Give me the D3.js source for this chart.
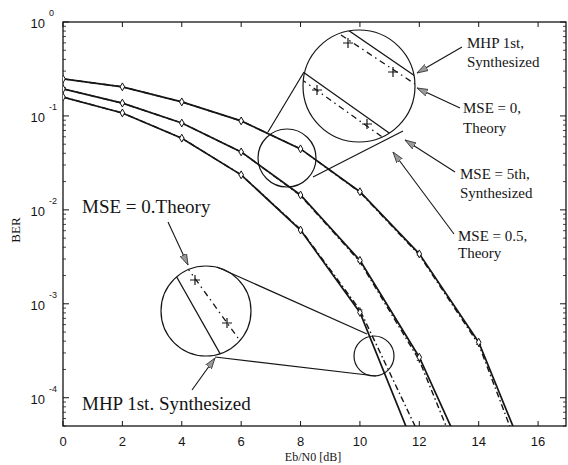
<!DOCTYPE html>
<html>
<head>
<meta charset="utf-8">
<script src="https://cdn.jsdelivr.net/npm/d3@7"></script>
<style>
body { margin: 0; background: #fff; }
</style>
</head>
<body>
<svg class="chart"></svg>
<script>
// Eb/N0 sample points and BER
var ebn0 = [0, 2, 4, 6, 8, 10, 12, 14, 16];
var theoryA = [0.248, 0.204, 0.141, 0.0885, 0.0446, 0.0156, 0.0034, 0.00039, 0.000011];
var synthA  = [0.248, 0.204, 0.141, 0.0885, 0.0446, 0.0154, 0.0033, 0.00037, 0.000008];
var theoryB = [0.194, 0.137, 0.084, 0.0414, 0.0144, 0.0029, 0.00027, 0.000011];
var synthB  = [0.194, 0.137, 0.084, 0.0414, 0.0142, 0.0028, 0.00025, 0.000007];
var theoryC = [0.159, 0.1076, 0.058, 0.0236, 0.0061, 0.00081, 0.000022];
var synthC  = [0.159, 0.1076, 0.058, 0.0236, 0.0062, 0.00086, 0.00004];
var xTicks = [0, 2, 4, 6, 8, 10, 12, 14, 16];
var yExps = [0, -1, -2, -3, -4];

var width = 568, height = 465;
var plotL = 63, plotR = 566, plotT = 22, plotB = 426;
var ink = "#151515";

var x = d3.scaleLinear()
	.domain([0, 16.94])
	.range([plotL, plotR]);

var y = d3.scaleLog()
	.domain([1, 5e-5])
	.range([plotT, plotB]);

var svg = d3.select(".chart")
	.attr("width", width)
	.attr("height", height)
	.style("font-family", "'Liberation Sans', Arial, sans-serif");

var defs = svg.append("defs");
defs.append("clipPath").attr("id", "plot")
	.append("rect")
	.attr("x", plotL).attr("y", plotT)
	.attr("width", plotR - plotL).attr("height", plotB - plotT);

defs.append("marker")
	.attr("id", "arr")
	.attr("viewBox", "0 -4 11 8")
	.attr("refX", 11)
	.attr("refY", 0)
	.attr("markerWidth", 11)
	.attr("markerHeight", 8)
	.attr("markerUnits", "userSpaceOnUse")
	.attr("orient", "auto")
	.append("path")
	.attr("d", "M0,-3.5L11,0L0,3.5Z")
	.style("fill", "#9a9a9a")
	.style("stroke", "#333")
	.style("stroke-width", 0.8);

// frame
svg.append("rect")
	.attr("x", plotL).attr("y", plotT)
	.attr("width", plotR - plotL).attr("height", plotB - plotT)
	.style("fill", "none")
	.style("stroke", ink)
	.style("stroke-width", 1.3);

// x ticks, bottom and top, pointing in
var xt = svg.selectAll(".xt")
	.data(xTicks)
	.enter().append("g")
	.attr("transform", function(d) { return "translate(" + x(d) + ",0)"; });

xt.append("line").attr("y1", plotB).attr("y2", plotB - 5).style("stroke", ink);
xt.append("line").attr("y1", plotT).attr("y2", plotT + 5).style("stroke", ink);
xt.append("text")
	.attr("y", plotB + 20)
	.attr("text-anchor", "middle")
	.style("font-size", "13px")
	.style("fill", ink)
	.text(function(d) { return d; });

// y ticks: majors at decades, minors between
var minors = [];
yExps.forEach(function(e) {
	for (var k = 2; k < 10; k++) {
		var v = k * Math.pow(10, e - 1);
		if (v >= 5e-5 && v < 1) minors.push(v);
	}
});

svg.selectAll(".ymin")
	.data(minors)
	.enter().append("path")
	.attr("d", function(d) {
		return "M" + plotL + "," + y(d) + "h3M" + plotR + "," + y(d) + "h-3";
	})
	.style("stroke", ink)
	.style("stroke-width", 0.8);

var yt = svg.selectAll(".yt")
	.data(yExps)
	.enter().append("g")
	.attr("transform", function(d) { return "translate(0," + y(Math.pow(10, d)) + ")"; });

yt.append("path")
	.attr("d", "M" + plotL + ",0h6M" + plotR + ",0h-6")
	.style("stroke", ink);

yt.append("text")
	.attr("x", 45)
	.attr("y", 6)
	.attr("text-anchor", "end")
	.style("font-size", "13px")
	.style("fill", ink)
	.text("10");

yt.append("text")
	.attr("x", 49)
	.attr("y", -6)
	.style("font-size", "9px")
	.style("fill", ink)
	.text(function(d) { return d === 0 ? "0" : "-" + Math.abs(d); });

// axis titles
svg.append("text")
	.attr("x", 313)
	.attr("y", 461)
	.attr("text-anchor", "middle")
	.style("font-family", "'Liberation Serif', serif")
	.style("font-size", "12px")
	.style("fill", ink)
	.text("Eb/N0 [dB]");

svg.append("text")
	.attr("transform", "translate(20,230) rotate(-90)")
	.attr("text-anchor", "middle")
	.style("font-family", "'Liberation Serif', serif")
	.style("font-size", "13px")
	.style("fill", ink)
	.text("BER");

// curves
var line = d3.line()
	.x(function(d, i) { return x(ebn0[i]); })
	.y(function(d) { return y(d); });

var curves = svg.append("g").attr("clip-path", "url(#plot)");

[synthA, synthB, synthC].forEach(function(s) {
	curves.append("path")
		.datum(s)
		.attr("d", line)
		.style("fill", "none")
		.style("stroke", ink)
		.style("stroke-width", 1.4)
		.style("stroke-dasharray", "6,3,1.5,3");

	curves.selectAll(null)
		.data(s)
		.enter().append("path")
		.attr("transform", function(d, i) { return "translate(" + x(ebn0[i]) + "," + y(d) + ")"; })
		.attr("d", "M-2.5,0H2.5M0,-2.5V2.5")
		.style("stroke", ink)
		.style("stroke-width", 1);
});

[theoryA, theoryB, theoryC].forEach(function(s) {
	curves.append("path")
		.datum(s)
		.attr("d", line)
		.style("fill", "none")
		.style("stroke", ink)
		.style("stroke-width", 1.7);

	curves.selectAll(null)
		.data(s)
		.enter().append("path")
		.attr("transform", function(d, i) { return "translate(" + x(ebn0[i]) + "," + y(d) + ")"; })
		.attr("d", d3.symbol(d3.symbolDiamond, 18))
		.style("fill", "#fff")
		.style("stroke", ink)
		.style("stroke-width", 1);
});

// zoom callouts (overlay, in pixels); small circles are see-through
var circles = [
	{cx: 359, cy: 86, r: 56, id: "zA", fill: "#fff"},
	{cx: 287, cy: 158, r: 29, fill: "none"},
	{cx: 206, cy: 311, r: 45, id: "zB", fill: "#fff"},
	{cx: 374, cy: 356, r: 20, fill: "none"}
];

circles.forEach(function(c) {
	if (c.id) {
		defs.append("clipPath").attr("id", c.id)
			.append("circle").attr("cx", c.cx).attr("cy", c.cy).attr("r", c.r);
	}
	svg.append("circle")
		.attr("cx", c.cx).attr("cy", c.cy).attr("r", c.r)
		.style("fill", c.fill)
		.style("stroke", ink)
		.style("stroke-width", 1.2);
});

var tangents = [[268, 132, 304, 72], [313, 177, 403, 131], [217, 267, 367, 334], [215, 357, 376, 376]];
svg.selectAll(".tan")
	.data(tangents)
	.enter().append("line")
	.attr("x1", function(d) { return d[0]; }).attr("y1", function(d) { return d[1]; })
	.attr("x2", function(d) { return d[2]; }).attr("y2", function(d) { return d[3]; })
	.style("stroke", ink)
	.style("stroke-width", 1.2);

var insets = [
	{clip: "zA", solid: [[345, 28, 418, 78], [303, 72, 392, 135]],
		dash: [[341, 35, 415, 84], [301, 79, 385, 139]],
		plus: [[348, 43], [393, 72], [317, 90], [367, 124]]},
	{clip: "zB", solid: [[175, 274, 222, 357]],
		dash: [[186, 266, 238, 338]],
		plus: [[195, 280], [227, 323]]}
];

insets.forEach(function(s) {
	var g = svg.append("g").attr("clip-path", "url(#" + s.clip + ")");
	s.solid.forEach(function(d) {
		g.append("line")
			.attr("x1", d[0]).attr("y1", d[1]).attr("x2", d[2]).attr("y2", d[3])
			.style("stroke", ink).style("stroke-width", 1.3);
	});
	s.dash.forEach(function(d) {
		g.append("line")
			.attr("x1", d[0]).attr("y1", d[1]).attr("x2", d[2]).attr("y2", d[3])
			.style("stroke", ink).style("stroke-width", 1.3)
			.style("stroke-dasharray", "6,4,1.5,4");
	});
	s.plus.forEach(function(d) {
		g.append("path")
			.attr("d", "M" + (d[0] - 5) + "," + d[1] + "h10M" + d[0] + "," + (d[1] - 5) + "v10")
			.style("stroke", ink).style("stroke-width", 1.2);
	});
});

// arrows
var arrows = [[462, 47, 417, 73], [460, 108, 417, 88], [455, 172, 405, 140],
	[454, 234, 393, 152], [168, 222, 188, 265], [192, 390, 215, 358]];

svg.selectAll(".arrow")
	.data(arrows)
	.enter().append("line")
	.attr("x1", function(d) { return d[0]; }).attr("y1", function(d) { return d[1]; })
	.attr("x2", function(d) { return d[2]; }).attr("y2", function(d) { return d[3]; })
	.attr("marker-end", "url(#arr)")
	.style("stroke", ink)
	.style("stroke-width", 1.1);

// labels
var labels = [
	["MHP 1st,", 467, 48, 15], ["Synthesized", 467, 67, 15],
	["MSE = 0,", 463, 113, 15], ["Theory", 463, 133, 15],
	["MSE = 5th,", 460, 179, 15], ["Synthesized", 460, 198, 15],
	["MSE = 0.5,", 458, 241, 15], ["Theory", 458, 258, 15],
	["MSE = 0.Theory", 82, 213, 19], ["MHP 1st. Synthesized", 82, 410, 19]
];

svg.selectAll(".lab")
	.data(labels)
	.enter().append("text")
	.attr("x", function(d) { return d[1]; })
	.attr("y", function(d) { return d[2]; })
	.style("font-family", "'Liberation Serif', 'Times New Roman', serif")
	.style("font-size", function(d) { return d[3] + "px"; })
	.style("fill", ink)
	.text(function(d) { return d[0]; });
</script>
</body>
</html>
